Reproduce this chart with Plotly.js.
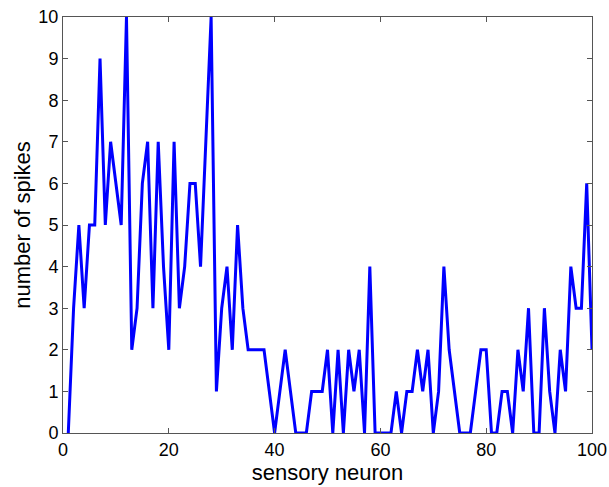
<!DOCTYPE html>
<html>
<head>
<meta charset="utf-8">
<script src="https://cdn.plot.ly/plotly-3.0.1.min.js"></script>
<style>
  html, body { margin: 0; padding: 0; background: #fff; }
  #chart { width: 609px; height: 487px; }
</style>
</head>
<body>
<div id="chart"></div>
<script>
// number of spikes per sensory neuron (neurons 1..100)
const spikes = [
  0, 3, 5, 3, 5, 5, 9, 5, 7, 6,
  5, 10, 2, 3, 6, 7, 3, 7, 4, 2,
  7, 3, 4, 6, 6, 4, 7, 10, 1, 3,
  4, 2, 5, 3, 2, 2, 2, 2, 1, 0,
  1, 2, 1, 0, 0, 0, 1, 1, 1, 2,
  0, 2, 0, 2, 1, 2, 0, 4, 0, 0,
  0, 0, 1, 0, 1, 1, 2, 1, 2, 0,
  1, 4, 2, 1, 0, 0, 0, 1, 2, 2,
  0, 0, 1, 1, 0, 2, 1, 3, 0, 0,
  3, 1, 0, 2, 1, 4, 3, 3, 6, 2
];
const neuron = spikes.map((_, i) => i + 1);
const xTicks = [0, 20, 40, 60, 80, 100];
const yTicks = [0, 1, 2, 3, 4, 5, 6, 7, 8, 9, 10];
const xLabel = 'sensory neuron';
const yLabel = 'number of spikes';

const font = 'Liberation Sans, Arial, Helvetica, sans-serif';
const axisColor = '#555555';

const trace = {
  x: neuron,
  y: spikes,
  type: 'scatter',
  mode: 'lines',
  line: { color: '#0000ff', width: 3 },
  hoverinfo: 'x+y'
};

const layout = {
  width: 609,
  height: 487,
  margin: { l: 63, r: 17, t: 17, b: 54 },
  paper_bgcolor: '#ffffff',
  plot_bgcolor: '#ffffff',
  showlegend: false,
  font: { family: font, color: '#000000', size: 18 },
  xaxis: {
    range: [0, 100],
    tickvals: xTicks,
    ticktext: xTicks.map(String),
    ticks: 'inside',
    ticklen: 5,
    tickwidth: 1,
    tickcolor: axisColor,
    showline: true,
    linecolor: axisColor,
    linewidth: 1,
    mirror: 'ticks',
    showgrid: false,
    zeroline: false,
    tickfont: { family: font, size: 18, color: '#000' },
    title: { text: xLabel, font: { family: font, size: 22, color: '#000' }, standoff: 1 }
  },
  yaxis: {
    range: [0, 10],
    tickvals: yTicks,
    ticktext: yTicks.map(String),
    ticks: 'inside',
    ticklen: 5,
    tickwidth: 1,
    tickcolor: axisColor,
    showline: true,
    linecolor: axisColor,
    linewidth: 1,
    mirror: 'ticks',
    showgrid: false,
    zeroline: false,
    tickfont: { family: font, size: 18, color: '#000' },
    title: { text: yLabel, font: { family: font, size: 22, color: '#000' }, standoff: 1 }
  }
};

Plotly.newPlot('chart', [trace], layout, { staticPlot: true, displayModeBar: false });
</script>
</body>
</html>
